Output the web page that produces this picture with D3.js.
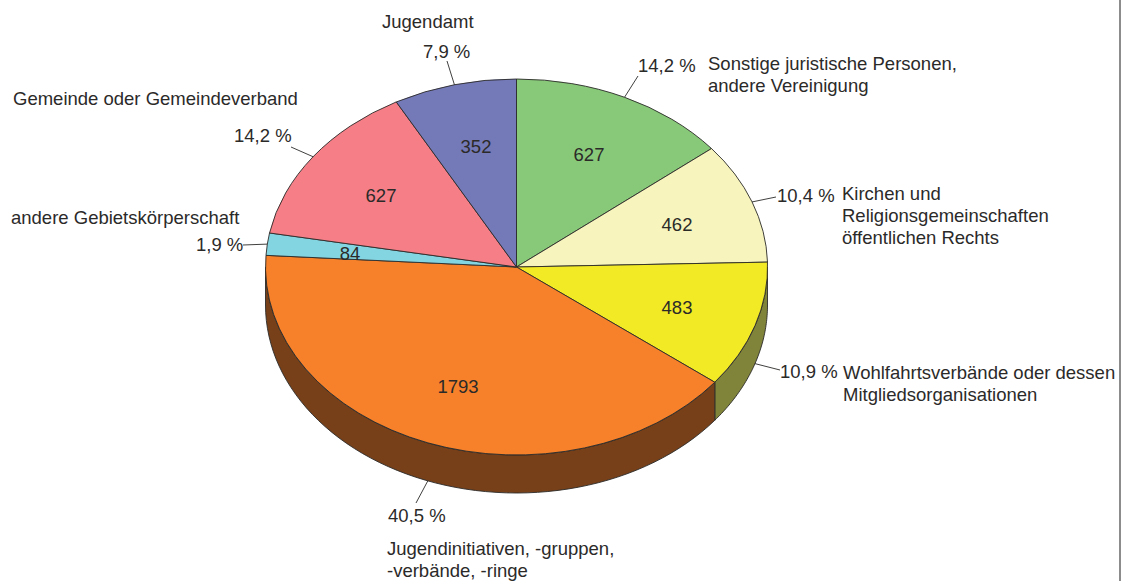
<!DOCTYPE html>
<html><head><meta charset="utf-8">
<script src="https://cdn.jsdelivr.net/npm/d3@7"></script>
<style>html,body{margin:0;background:#fff}svg{display:block}text{font-family:"Liberation Sans",Arial,sans-serif;font-size:18.5px;fill:#2b2a29}</style>
</head><body><svg id="c" width="1124" height="581"></svg>
<script>
const categories=["Sonstige juristische Personen, andere Vereinigung","Kirchen und Religionsgemeinschaften öffentlichen Rechts","Wohlfahrtsverbände oder dessen Mitgliedsorganisationen","Jugendinitiativen, -gruppen, -verbände, -ringe","andere Gebietskörperschaft","Gemeinde oder Gemeindeverband","Jugendamt"];
const counts=[627,462,483,1793,84,627,352];
const percents=["14,2 %","10,4 %","10,9 %","40,5 %","1,9 %","14,2 %","7,9 %"];
const colors=["#88c979","#f7f5bd","#f2ea25","#f6812a","#84d5e2","#f67f87","#7479b8"];
const sideColors=["#88c979","#f7f5bd","#80843a","#774019","#84d5e2","#f67f87","#7479b8"];
const categoryLines=[["Sonstige juristische Personen,","andere Vereinigung"],["Kirchen und","Religionsgemeinschaften","öffentlichen Rechts"],["Wohlfahrtsverbände oder dessen","Mitgliedsorganisationen"],["Jugendinitiativen, -gruppen,","-verbände, -ringe"],["andere Gebietskörperschaft"],["Gemeinde oder Gemeindeverband"],["Jugendamt"]];
const catAnchor=[[708,70],[842,200],[843,379],[387,555],[11,224],[13,105],[382,28]];
const pctAnchor=[[638,72],[777,202],[780,378],[388,522],[196,251],[234,142],[423,58]];
const leaderEnd=[[638,76],[776,197],[780,370],[416,503],[243,245],[291,147],[447,61]];
const countAnchor=[[589,161],[677,231],[677,314],[458,393],[350,260],[381,202],[476,153]];

const W=1124,H=581,cx=516.5,cy=267,rx=251,ry=188,depth=38;
const svg=d3.select("#c");
const pie=d3.pie().sort(null).value(d=>d).startAngle(0).endAngle(2*Math.PI);
const arcs=pie(counts);
const ex=a=>cx+rx*Math.sin(a), ey=a=>cy-ry*Math.cos(a);

svg.append("rect").attr("x",1119).attr("y",0).attr("width",2).attr("height",H).attr("fill","#8c8c8c");

// side walls
const area=d3.area().x(ex).y0(ey).y1(a=>ey(a)+depth);
arcs.forEach((d,i)=>{
  const a0=Math.max(d.startAngle,Math.PI/2),a1=Math.min(d.endAngle,3*Math.PI/2);
  if(a1<=a0)return;
  const n=60,as=d3.range(n+1).map(k=>a0+(a1-a0)*k/n);
  svg.append("path").attr("d",area(as)).attr("fill",sideColors[i]).attr("stroke","#2b2a29").attr("stroke-width",.9).attr("stroke-linejoin","round");
});
// top slices
const arc=d3.arc().innerRadius(0).outerRadius(1);
const slices=svg.append("g").attr("transform",`translate(${cx},${cy}) scale(${rx},${ry})`);
slices.selectAll("path").data(arcs).join("path").attr("d",arc).attr("fill",(d,i)=>colors[i])
  .attr("stroke","#2b2a29").attr("stroke-width",.9).attr("vector-effect","non-scaling-stroke").attr("stroke-linejoin","round");
// leaders
arcs.forEach((d,i)=>{
  const m=(d.startAngle+d.endAngle)/2;
  const wall=m>Math.PI/2&&m<3*Math.PI/2?depth:0;
  svg.append("line").attr("x1",ex(m)).attr("y1",ey(m)+wall).attr("x2",leaderEnd[i][0]).attr("y2",leaderEnd[i][1]).attr("stroke","#2b2a29").attr("stroke-width",.9);
});
// texts
arcs.forEach((d,i)=>{
  svg.append("text").attr("x",countAnchor[i][0]).attr("y",countAnchor[i][1]).attr("text-anchor","middle").text(counts[i]);
  svg.append("text").attr("x",pctAnchor[i][0]).attr("y",pctAnchor[i][1]).text(percents[i]);
  categoryLines[i].forEach((l,k)=>svg.append("text").attr("x",catAnchor[i][0]).attr("y",catAnchor[i][1]+k*22).text(l));
});
</script></body></html>
